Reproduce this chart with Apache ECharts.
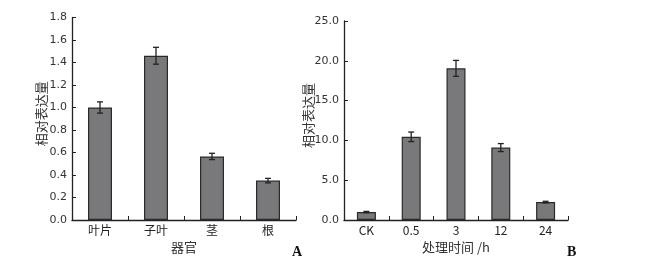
<!DOCTYPE html>
<html>
<head>
<meta charset="utf-8">
<script src="https://cdn.jsdelivr.net/npm/echarts@6/dist/echarts.min.js"></script>
<style>
  html, body { margin: 0; padding: 0; background: #fff; }
  #graph { width: 663px; height: 259px; }
</style>
</head>
<body>
<div id="graph"></div>
<script>
// panel A: organs
var organCats = ['叶片', '子叶', '茎', '根'];
var organVals = [1.0, 1.46, 0.565, 0.35];
var organErr = [0.05, 0.075, 0.028, 0.02];
var organTicks = [0, 0.2, 0.4, 0.6, 0.8, 1.0, 1.2, 1.4, 1.6, 1.8];

// panel B: treatment time
var timeCats = ['CK', '0.5', '3', '12', '24'];
var timeVals = [1.0, 10.45, 19.05, 9.1, 2.25];
var timeErr = [0.08, 0.6, 1.0, 0.5, 0.1];
var timeTicks = [0, 5, 10, 15, 20, 25];

var chartDom = document.getElementById('graph');
var myChart = echarts.init(chartDom);
var option;

var tickFont = 'DejaVu Sans';
var cjkFont = 'Noto Sans CJK SC';

function errorSeries(xi, vals, errs) {
  return {
    type: 'custom',
    xAxisIndex: xi,
    yAxisIndex: xi,
    z: 5,
    data: vals.map(function (v, i) { return [i, v - errs[i], v + errs[i]]; }),
    renderItem: function (params, api) {
      var lo = api.coord([api.value(0), api.value(1)]);
      var hi = api.coord([api.value(0), api.value(2)]);
      var w = 3;
      var st = { stroke: '#222', lineWidth: 1.3 };
      return {
        type: 'group',
        children: [
          { type: 'line', shape: { x1: hi[0], y1: hi[1], x2: lo[0], y2: lo[1] }, style: st },
          { type: 'line', shape: { x1: hi[0] - w, y1: hi[1], x2: hi[0] + w, y2: hi[1] }, style: st },
          { type: 'line', shape: { x1: lo[0] - w, y1: lo[1], x2: lo[0] + w, y2: lo[1] }, style: st }
        ]
      };
    }
  };
}

function yAxisDef(gi, max, interval, nameGap) {
  return {
    gridIndex: gi,
    type: 'value',
    min: 0,
    max: max,
    interval: interval,
    name: '相对表达量',
    nameLocation: 'middle',
    nameGap: nameGap,
    nameMoveOverlap: false,
    nameTextStyle: { fontFamily: cjkFont, fontSize: 13, color: '#333', padding: [0, 0, 0, 10] },
    axisLine: { show: true, lineStyle: { color: '#222', width: 1.3 } },
    axisTick: { show: true, inside: true, length: 4, lineStyle: { color: '#222' } },
    axisLabel: {
      fontFamily: tickFont, fontSize: 11, color: '#333', margin: 5,
      formatter: function (v) { return v.toFixed(1); }
    },
    splitLine: { show: false }
  };
}

function xAxisDef(gi, cats, name) {
  return {
    gridIndex: gi,
    type: 'category',
    data: cats,
    name: name,
    nameLocation: 'middle',
    nameGap: 21,
    nameMoveOverlap: false,
    nameTextStyle: { fontFamily: cjkFont, fontSize: 13, color: '#333' },
    axisLine: { lineStyle: { color: '#222', width: 1.3 } },
    axisTick: { show: true, inside: true, length: 4, lineStyle: { color: '#222' } },
    axisLabel: { fontFamily: cjkFont, fontSize: 12, color: '#222', margin: 4 }
  };
}

option = {
  animation: false,
  backgroundColor: '#fff',
  title: [
    { text: 'A', left: 287, top: 240, textStyle: { fontFamily: 'Liberation Serif', fontWeight: 'bold', fontSize: 14, color: '#111' } },
    { text: 'B', left: 562, top: 240, textStyle: { fontFamily: 'Liberation Serif', fontWeight: 'bold', fontSize: 14, color: '#111' } }
  ],
  grid: [
    { left: 72, top: 17.5, width: 224, height: 208.5 },
    { left: 344, top: 21, width: 224, height: 206 }
  ],
  xAxis: [
    xAxisDef(0, organCats, '器官'),
    xAxisDef(1, timeCats, '处理时间 /h')
  ],
  yAxis: [
    yAxisDef(0, organTicks[organTicks.length - 1], 0.2, 24),
    yAxisDef(1, timeTicks[timeTicks.length - 1], 5, 29)
  ],
  series: [
    {
      type: 'bar',
      xAxisIndex: 0,
      yAxisIndex: 0,
      data: organVals,
      barWidth: 24,
      itemStyle: { color: '#79797b', borderColor: '#2a2a2a', borderWidth: 1.2 }
    },
    errorSeries(0, organVals, organErr),
    {
      type: 'bar',
      xAxisIndex: 1,
      yAxisIndex: 1,
      data: timeVals,
      barWidth: 19,
      itemStyle: { color: '#79797b', borderColor: '#2a2a2a', borderWidth: 1.2 }
    },
    errorSeries(1, timeVals, timeErr)
  ]
};

option && myChart.setOption(option);
</script>
</body>
</html>
